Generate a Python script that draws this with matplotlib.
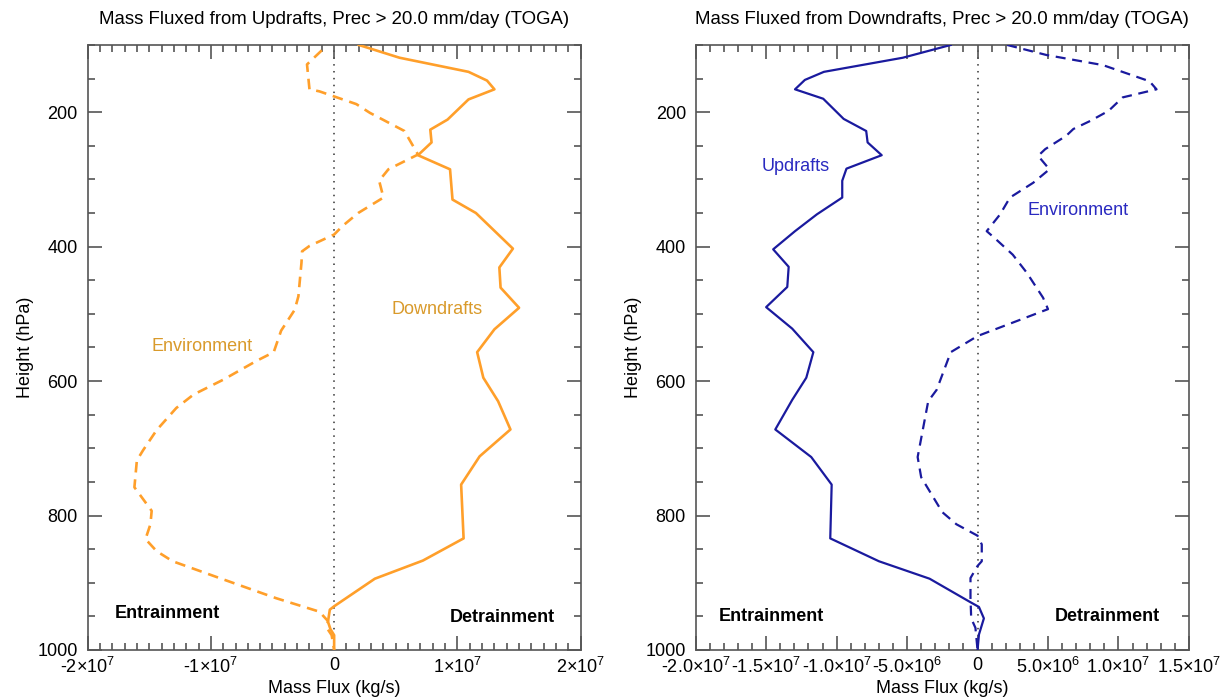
import matplotlib
matplotlib.use("Agg")
import matplotlib.pyplot as plt
from matplotlib.ticker import MultipleLocator, FixedLocator, FixedFormatter

plt.rcParams['font.family'] = ['Liberation Sans', 'DejaVu Sans']
plt.rcParams['mathtext.fontset'] = 'custom'
plt.rcParams['mathtext.rm'] = 'Liberation Sans'
plt.rcParams['mathtext.it'] = 'Liberation Sans'
plt.rcParams['mathtext.bf'] = 'Liberation Sans:bold'
plt.rcParams['mathtext.default'] = 'regular'

# ---- data (mass flux in units of 1e6 kg/s, pressure in hPa) ----
down_p = [100, 119, 140, 153, 166, 181, 211, 226, 245, 264, 285, 330, 350, 403,
          431, 461, 491, 523, 557, 595, 630, 672, 712, 754, 834, 867, 894, 935,
          940, 958, 969, 978, 1000]
down_v = [2.0, 5.3, 10.9, 12.4, 13.0, 10.9, 9.2, 7.8, 7.9, 6.8, 9.4, 9.6, 11.5, 14.5,
          13.4, 13.5, 15.0, 13.0, 11.6, 12.1, 13.3, 14.3, 11.8, 10.3, 10.5, 7.2, 3.3, 0.0,
          -0.35, -0.5, -0.3, 0.0, 0.0]

envL_p = [108, 129, 166, 169, 188, 201, 228, 263, 285, 302, 327, 350, 369, 382,
          399, 407, 424, 474, 494, 525, 557, 570, 598, 620, 640, 673, 703, 718,
          758, 793, 813, 835, 853, 868, 893, 923, 943, 957, 967, 978, 1000]
envL_v = [-1.0, -2.2, -2.0, -1.2, 1.8, 2.9, 5.7, 6.8, 4.4, 3.65, 4.0, 1.95, 0.7, 0.0,
          -2.0, -2.6, -2.65, -2.9, -3.2, -4.3, -4.9, -6.3, -9.0, -11.4, -12.8, -14.4, -15.5, -16.0,
          -16.2, -14.8, -14.9, -15.3, -14.4, -13.1, -9.3, -4.7, -1.2, -0.5, -0.6, -0.2, 0.0]

up_p = [100, 119, 140, 152, 166, 180, 210, 228, 245, 264, 284, 302, 327, 352,
        377, 404, 430, 460, 490, 522, 557, 595, 628, 672, 713, 754, 834, 868,
        894, 929, 936, 953, 977, 1000]
up_v = [-1.9, -5.3, -10.9, -12.25, -12.95, -10.95, -9.5, -7.9, -7.8, -6.8, -9.3, -9.6, -9.6, -11.4,
        -12.95, -14.5, -13.4, -13.5, -15.0, -13.15, -11.65, -12.15, -13.15, -14.35, -11.8, -10.35, -10.45, -7.0,
        -3.4, -0.5, 0.1, 0.45, 0.1, 0.0]

envR_p = [100, 115, 130, 154, 166, 178, 198, 213, 225, 235, 255, 265, 285, 305,
          327, 352, 377, 387, 412, 439, 476, 493, 513, 533, 557, 613, 630, 713,
          743, 795, 813, 830, 843, 868, 875, 893, 923, 953, 967, 1000]
envR_v = [2.1, 4.9, 8.9, 12.2, 12.7, 10.3, 9.3, 8.0, 6.8, 6.3, 4.8, 4.3, 5.1, 3.95,
          2.3, 1.6, 0.65, 1.2, 2.5, 3.5, 4.65, 5.0, 2.5, 0.0, -1.9, -2.9, -3.5, -4.25,
          -4.0, -2.5, -1.5, 0.0, 0.3, 0.3, 0.0, -0.5, -0.5, -0.45, -0.15, 0.0]

left_xticks = [-2e7, -1e7, 0, 1e7, 2e7]
left_xlabels = ['-2×10$^{7}$', '-1×10$^{7}$', '0', '1×10$^{7}$', '2×10$^{7}$']
right_xticks = [-2e7, -1.5e7, -1e7, -5e6, 0, 5e6, 1e7, 1.5e7]
right_xlabels = ['-2.0×10$^{7}$', '-1.5×10$^{7}$', '-1.0×10$^{7}$', '-5.0×10$^{6}$', '0',
                 '5.0×10$^{6}$', '1.0×10$^{7}$', '1.5×10$^{7}$']
yticks = [200, 400, 600, 800, 1000]

orange = '#FF9F2A'
orange_txt = '#D99A2B'
blue = '#1A1A9E'
blue_txt = '#2A2AC0'
spine_col = '#555555'


def scale(v):
    return [x * 1e6 for x in v]


def style_axes(ax, xlim, xticks, xlabels, xminor):
    ax.set_xlim(*xlim)
    ax.set_ylim(1000, 100)
    ax.xaxis.set_major_locator(FixedLocator(xticks))
    ax.xaxis.set_major_formatter(FixedFormatter(xlabels))
    ax.xaxis.set_minor_locator(MultipleLocator(xminor))
    ax.yaxis.set_major_locator(FixedLocator(yticks))
    ax.yaxis.set_minor_locator(MultipleLocator(50))
    ax.tick_params(which='both', direction='in', top=True, right=True,
                   color=spine_col, labelsize=13, width=1.2)
    ax.tick_params(which='major', length=10)
    ax.tick_params(which='minor', length=5)
    ax.tick_params(axis='y', pad=7)
    ax.tick_params(axis='x', pad=5)
    for s in ax.spines.values():
        s.set_color(spine_col)
        s.set_linewidth(1.2)
    ax.axvline(0, color='#333333', ls=(0, (1, 3.5)), lw=1.1, zorder=1)
    ax.set_xlabel('Mass Flux (kg/s)', fontsize=13)
    ax.set_ylabel('Height (hPa)', fontsize=13)
    ax.xaxis.set_label_coords(0.5, -0.063)
    ax.xaxis.label.set_va('center')
    ax.yaxis.set_label_coords(-0.126, 0.5)
    ax.yaxis.label.set_va('center')


fig = plt.figure(figsize=(12.28, 6.98), dpi=100)
ax1 = fig.add_axes([0.0713, 0.0688, 0.4016, 0.8668])
ax2 = fig.add_axes([0.5665, 0.0688, 0.4017, 0.8668])

# left panel: mass fluxed from updrafts
ax1.plot(scale(down_v), down_p, color=orange, lw=1.9, zorder=3)
ax1.plot(scale(envL_v), envL_p, color=orange, lw=1.9, ls=(0, (4, 2.6)), zorder=3)
style_axes(ax1, (-2e7, 2e7), left_xticks, left_xlabels, 1e6)
ax1.set_title('Mass Fluxed from Updrafts, Prec > 20.0 mm/day (TOGA)', fontsize=13.4, pad=15)
ax1.text(-10.7e6, 549, 'Environment', color=orange_txt, fontsize=13, ha='center', va='center')
ax1.text(8.35e6, 493, 'Downdrafts', color=orange_txt, fontsize=13, ha='center', va='center')
ax1.text(-13.5e6, 945, 'Entrainment', fontsize=13, fontweight='bold', ha='center', va='center')
ax1.text(13.6e6, 951, 'Detrainment', fontsize=13, fontweight='bold', ha='center', va='center')

# right panel: mass fluxed from downdrafts
ax2.plot(scale(up_v), up_p, color=blue, lw=1.6, zorder=3)
ax2.plot(scale(envR_v), envR_p, color=blue, lw=1.6, ls=(0, (4.5, 3)), zorder=3)
style_axes(ax2, (-2e7, 1.5e7), right_xticks, right_xlabels, 1e6)
ax2.set_title('Mass Fluxed from Downdrafts, Prec > 20.0 mm/day (TOGA)', fontsize=13.4, pad=15)
ax2.text(-12.9e6, 281, 'Updrafts', color=blue_txt, fontsize=13, ha='center', va='center')
ax2.text(7.1e6, 347, 'Environment', color=blue_txt, fontsize=13, ha='center', va='center')
ax2.text(-14.6e6, 950, 'Entrainment', fontsize=13, fontweight='bold', ha='center', va='center')
ax2.text(9.24e6, 950, 'Detrainment', fontsize=13, fontweight='bold', ha='center', va='center')

fig.savefig('out.png', dpi=100, facecolor='white')
